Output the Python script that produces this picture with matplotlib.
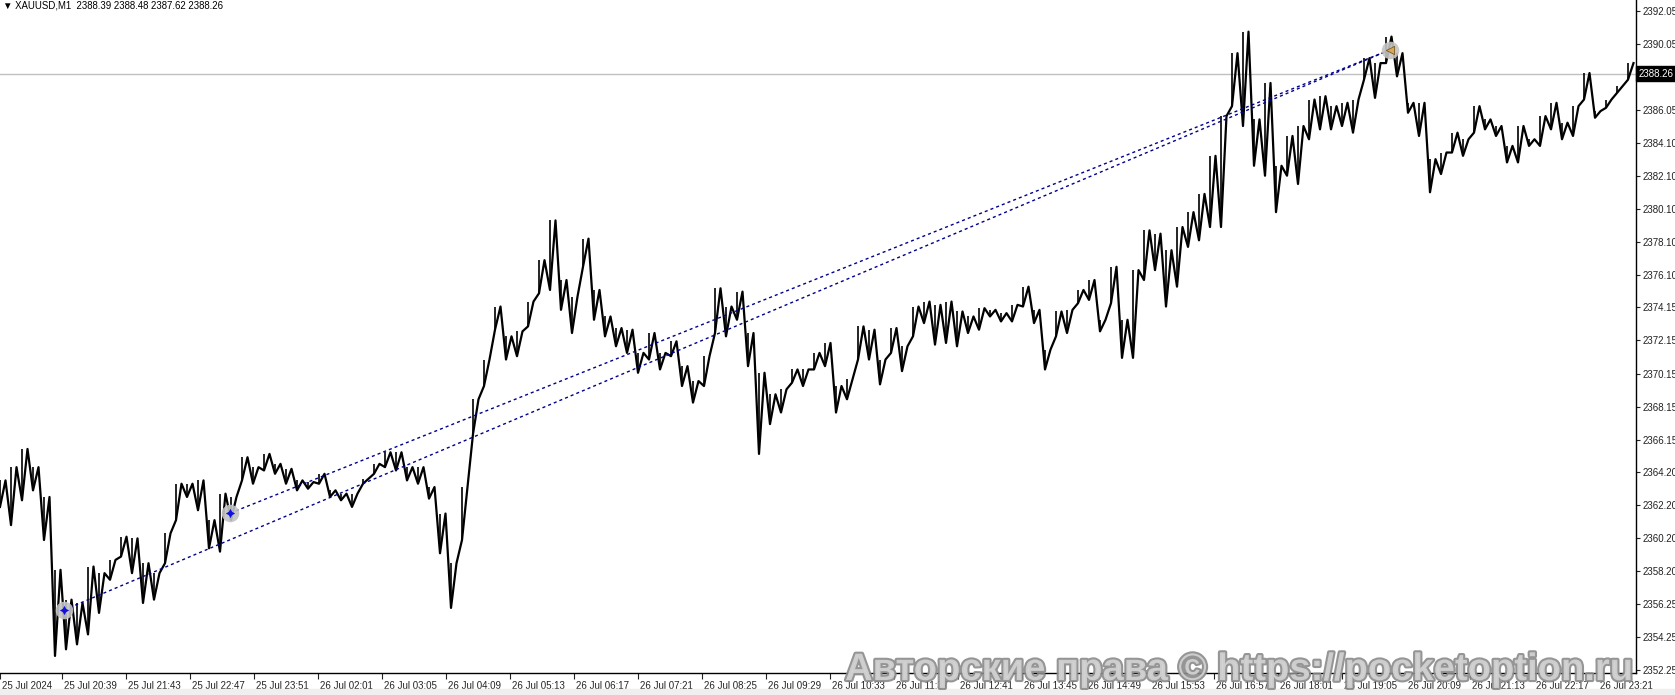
import numpy as np
import matplotlib
matplotlib.use("Agg")
import matplotlib.pyplot as plt
import matplotlib.patheffects as pe
from matplotlib.transforms import ScaledTranslation

bar_step = 11
hi = [2363.7, 2364.5, 2365.6, 2364.5, 2362.7, 2358.3, 2356.5, 2356.3, 2358.5, 2358.1,
      2358.9, 2360.3, 2360.2, 2358.7, 2358.1, 2360.5, 2363.5, 2363.5, 2363.7, 2361.3,
      2362.9, 2362.7, 2365.1, 2364.5, 2365.3, 2364.7, 2364.4, 2363.7, 2363.6, 2364.1,
      2363.1, 2362.9, 2362.9, 2363.8, 2364.7, 2365.4, 2365.4, 2364.5, 2364.5, 2363.3,
      2361.7, 2358.7, 2363.3, 2368.6, 2371.0, 2374.2, 2372.4, 2372.7, 2374.5, 2377.0,
      2379.4, 2375.8, 2374.8, 2378.3, 2375.2, 2373.6, 2372.9, 2372.8, 2371.4, 2372.6,
      2371.4, 2372.1, 2370.6, 2369.7, 2371.2, 2375.3, 2374.2, 2375.1, 2372.6, 2370.2,
      2368.9, 2369.2, 2370.4, 2370.4, 2371.4, 2372.0, 2369.4, 2369.8, 2373.0, 2372.8,
      2371.0, 2372.9, 2371.8, 2374.2, 2374.5, 2374.3, 2374.5, 2373.9, 2373.6, 2374.1,
      2374.0, 2373.8, 2374.3, 2375.4, 2374.0, 2371.6, 2373.9, 2374.0, 2375.2, 2375.8,
      2373.4, 2376.6, 2373.4, 2376.4, 2378.8, 2378.6, 2377.6, 2379.0, 2379.9, 2381.0,
      2383.3, 2385.7, 2389.5, 2390.8, 2385.5, 2387.7, 2382.7, 2384.5, 2385.1, 2386.7,
      2386.9, 2386.3, 2386.5, 2386.7, 2389.2, 2388.9, 2390.5, 2389.5, 2386.5, 2386.5,
      2383.1, 2383.5, 2384.7, 2384.3, 2386.3, 2385.5, 2385.1, 2383.9, 2385.1, 2384.3,
      2385.7, 2386.5, 2385.3, 2386.3, 2388.3, 2386.0, 2386.7, 2387.5, 2388.9]
lo = [2362.1, 2361.0, 2362.5, 2363.1, 2360.1, 2353.1, 2353.5, 2353.8, 2354.4, 2355.7,
      2357.7, 2359.1, 2358.1, 2356.3, 2356.5, 2358.7, 2361.3, 2362.7, 2361.9, 2359.6,
      2359.4, 2361.3, 2363.7, 2363.5, 2364.3, 2364.1, 2363.5, 2363.1, 2363.2, 2363.5,
      2362.7, 2362.5, 2362.1, 2363.5, 2364.1, 2364.5, 2364.3, 2363.7, 2363.5, 2362.6,
      2359.3, 2356.0, 2360.1, 2366.5, 2369.4, 2372.8, 2371.0, 2371.2, 2373.0, 2375.0,
      2375.2, 2374.0, 2372.6, 2376.6, 2373.4, 2372.4, 2371.8, 2371.4, 2370.2, 2371.0,
      2370.4, 2371.2, 2369.4, 2368.4, 2369.4, 2372.6, 2372.4, 2373.4, 2370.6, 2365.3,
      2367.1, 2367.8, 2369.6, 2369.4, 2370.4, 2370.6, 2367.8, 2368.6, 2371.0, 2371.0,
      2369.5, 2371.4, 2370.3, 2372.4, 2373.2, 2371.9, 2372.0, 2371.8, 2372.6, 2372.8,
      2373.6, 2373.3, 2373.3, 2374.2, 2373.2, 2370.4, 2372.4, 2372.6, 2374.4, 2374.6,
      2372.7, 2374.4, 2371.1, 2371.1, 2375.8, 2376.4, 2374.2, 2375.4, 2377.8, 2378.2,
      2379.0, 2379.0, 2386.3, 2385.1, 2382.7, 2382.1, 2379.9, 2382.1, 2381.6, 2384.3,
      2384.9, 2384.9, 2385.1, 2384.7, 2387.9, 2386.8, 2388.9, 2388.1, 2385.9, 2384.5,
      2381.1, 2382.2, 2383.5, 2383.3, 2384.7, 2384.9, 2384.5, 2382.9, 2382.9, 2383.9,
      2383.9, 2384.9, 2384.3, 2384.5, 2386.7, 2385.6, 2386.2, 2387.1, 2387.9]

last_price = 2388.26
header = "\u25BC XAUUSD,M1  2388.39 2388.48 2387.62 2388.26"

# channel drawn on the chart: (bar, price) of the anchor points
anchor_a = (64, 2355.88)
anchor_b = (230, 2361.72)
anchor_c = (1390, 2389.70)

price_labels = ["2352.25", "2354.25", "2356.25", "2358.20", "2360.20", "2362.20", "2364.20",
                "2366.15", "2368.15", "2370.15", "2372.15", "2374.15", "2376.10", "2378.10",
                "2380.10", "2382.10", "2384.10", "2386.05", "2388.05", "2390.05", "2392.05"]
time_labels = ["25 Jul 20:39", "25 Jul 21:43", "25 Jul 22:47", "25 Jul 23:51", "26 Jul 02:01",
               "26 Jul 03:05", "26 Jul 04:09", "26 Jul 05:13", "26 Jul 06:17", "26 Jul 07:21",
               "26 Jul 08:25", "26 Jul 09:29", "26 Jul 10:33", "26 Jul 11:37", "26 Jul 12:41",
               "26 Jul 13:45", "26 Jul 14:49", "26 Jul 15:53", "26 Jul 16:57", "26 Jul 18:01",
               "26 Jul 19:05", "26 Jul 20:09", "26 Jul 21:13", "26 Jul 22:17", "26 Jul 23:21"]
first_label_bar = 62
bars_per_label = 64

watermark = "Авторские права © https://pocketoption.ru"

plt.rcParams["font.family"] = ["Liberation Sans", "DejaVu Sans"]

W, H = 1675, 695
fig = plt.figure(figsize=(W / 100, H / 100), dpi=100)
fig.patch.set_facecolor("white")
ax = fig.add_axes([0, 22 / H, 1636 / W, 673 / H])
ax.set_xlim(0, 1636)
ax.set_ylim(2352.07, 2392.71)

# price path: within each slice the line runs from its low (start) to its high (middle)
hi = np.array(hi)
lo = np.array(lo)
x = np.arange(len(hi)) * bar_step
px = np.empty(2 * len(hi))
py = np.empty(2 * len(hi))
px[0::2] = x
px[1::2] = x + bar_step / 2
py[0::2] = lo
py[1::2] = hi
ax.plot(px, py, color="black", lw=1.6, zorder=3)
ax.vlines(x, lo, hi, color="black", lw=1.2, zorder=3)

# last price line
ax.axhline(last_price, color="#c0c0c0", lw=1, zorder=1)

# channel lines
for p in (anchor_a, anchor_b):
    ax.plot([p[0], anchor_c[0]], [p[1], anchor_c[1]], color="#00008b", lw=1,
            ls=(0, (2.2, 2.2)), zorder=4)

# anchor markers
for p in (anchor_a, anchor_b, anchor_c):
    ax.scatter(p[0], p[1], s=160, color="#c4c4c4", alpha=0.9, lw=0, zorder=5)
for p in (anchor_a, anchor_b):
    ax.scatter(p[0], p[1], s=45, marker=(4, 1, 0), color="#1010e0", lw=0, zorder=6)
ax.scatter(anchor_c[0], anchor_c[1], s=35, marker="<", color="#d8a85a",
           edgecolor="#7a5a20", lw=0.6, zorder=6)

# axes look (MT4 style)
for s in ("left", "top"):
    ax.spines[s].set_visible(False)
for s in ("right", "bottom"):
    ax.spines[s].set_color("black")
    ax.spines[s].set_linewidth(1)

ax.yaxis.tick_right()
ax.set_yticks([float(v) for v in price_labels])
ax.set_yticklabels(price_labels)
ax.tick_params(axis="y", direction="out", length=3, width=0.8, pad=2,
               labelsize=7, colors="#222222")

xt = [0] + [first_label_bar + bars_per_label * i for i in range(len(time_labels))]
ax.set_xticks(xt)
ax.set_xticklabels(["25 Jul 2024"] + time_labels, ha="left")
ax.tick_params(axis="x", direction="out", length=4, width=0.8, pad=1.5,
               labelsize=7, colors="#222222")
off = ScaledTranslation(2 / 100, 0, fig.dpi_scale_trans)
for lab in ax.get_xticklabels():
    lab.set_transform(lab.get_transform() + off)

# last price label box on the price scale
ax.annotate(f"{last_price:.2f}", xy=(1.0, last_price), xycoords=("axes fraction", "data"),
            xytext=(2, 0), textcoords="offset points", ha="left", va="center",
            fontsize=7, color="white", zorder=10, annotation_clip=False,
            bbox=dict(boxstyle="square,pad=0.25", fc="black", ec="black"))

# header
fig.text(3 / W, 1 - 6 / H, header, fontsize=6.9, color="black", ha="left", va="center")

# bottom grey strip
fig.patches.append(plt.Rectangle((0, 0), 1, 6 / H, transform=fig.transFigure,
                                 color="#efefef", zorder=0))

# watermark
fig.text(845 / W, 15 / H, watermark, fontsize=27.5, fontweight="bold", color="#d4d4d4",
         alpha=0.9, ha="left", va="baseline", zorder=20,
         path_effects=[pe.withStroke(linewidth=3, foreground="#8a8a8a")])

fig.savefig("out.png", dpi=100)
